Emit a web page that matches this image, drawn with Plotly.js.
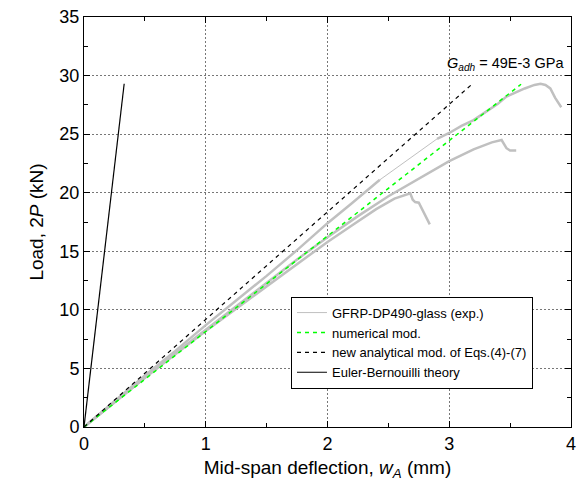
<!DOCTYPE html>
<html>
<head>
<meta charset="utf-8">
<script src="https://cdn.plot.ly/plotly-3.0.1.min.js"></script>
<style>html,body{margin:0;padding:0;background:#fff;}#chart{width:587px;height:492px;}</style>
</head>
<body>
<div id="chart"></div>
<script>
// Experimental curve A (upper), split at the sparse-data gap
const expA1_x = [0, 0.25, 0.5, 0.75, 1.0, 1.25, 1.5, 1.75, 2.0, 2.2, 2.43];
const expA1_y = [0, 2.2, 4.4, 6.5, 8.7, 10.8, 12.9, 15.1, 17.4, 19.1, 21.1];
const expGap_x = [2.43, 2.90];
const expGap_y = [21.1, 24.6];
const expA2_x = [2.90, 3.0, 3.1, 3.2, 3.3, 3.4, 3.47, 3.55, 3.62, 3.7, 3.75, 3.79, 3.83, 3.87, 3.92];
const expA2_y = [24.6, 25.1, 25.7, 26.2, 26.9, 27.6, 28.2, 28.6, 28.9, 29.2, 29.3, 29.2, 28.9, 28.1, 27.3];
// Experimental curve C
const expC_x = [0, 0.25, 0.5, 0.75, 1.0, 1.25, 1.5, 1.75, 2.0, 2.25, 2.5, 2.75, 3.0, 3.2, 3.35, 3.43, 3.45, 3.47, 3.5, 3.55];
const expC_y = [0, 2.1, 4.2, 6.3, 8.3, 10.3, 12.3, 14.3, 16.2, 18.0, 19.7, 21.2, 22.7, 23.7, 24.3, 24.5, 24.2, 23.8, 23.6, 23.6];
// Experimental curve D
const expD_x = [0, 0.25, 0.5, 0.75, 1.0, 1.25, 1.5, 1.75, 2.0, 2.2, 2.4, 2.55, 2.68, 2.70, 2.72, 2.75, 2.84];
const expD_y = [0, 2.1, 4.2, 6.2, 8.2, 10.1, 12.0, 13.9, 15.8, 17.2, 18.6, 19.5, 19.95, 19.4, 19.2, 19.15, 17.3];
// Models
const num_x = [0, 3.59];
const num_y = [0, 29.26];
const ana_x = [0, 3.18];
const ana_y = [0, 29.2];
const eb_x = [0, 0.33];
const eb_y = [0, 29.3];

const gray = '#c0c0c0';
const traces = [
  {x: expGap_x, y: expGap_y, mode: 'lines', name: 'GFRP-DP490-glass (exp.)', line: {color: gray, width: 1}},
  {x: expA1_x, y: expA1_y, mode: 'lines', showlegend: false, line: {color: gray, width: 2.5}},
  {x: expA2_x, y: expA2_y, mode: 'lines', showlegend: false, line: {color: gray, width: 2.5}},
  {x: expC_x, y: expC_y, mode: 'lines', showlegend: false, line: {color: gray, width: 2.5}},
  {x: expD_x, y: expD_y, mode: 'lines', showlegend: false, line: {color: gray, width: 2.5}},
  {x: num_x, y: num_y, mode: 'lines', name: 'numerical mod.', line: {color: '#00ff00', width: 1.5, dash: '4px,4px'}},
  {x: ana_x, y: ana_y, mode: 'lines', name: 'new analytical mod. of Eqs.(4)-(7)', line: {color: '#000', width: 1.2, dash: '4px,4px'}},
  {x: eb_x, y: eb_y, mode: 'lines', name: 'Euler-Bernouilli theory', line: {color: '#000', width: 1.2}}
];

const axisCommon = {
  showline: true, linecolor: '#000', linewidth: 1, mirror: 'ticks',
  ticks: 'inside', ticklen: 6, tickcolor: '#000', tickwidth: 1,
  showgrid: true, gridcolor: '#777', griddash: '2px,2px', gridwidth: 1,
  zeroline: false, tickfont: {size: 18, color: '#000'}
};

const layout = {
  width: 587, height: 492,
  margin: {l: 84, r: 16, t: 17, b: 65},
  paper_bgcolor: '#fff', plot_bgcolor: '#fff',
  font: {family: 'Arial, "Liberation Sans", sans-serif', color: '#000'},
  xaxis: Object.assign({}, axisCommon, {
    range: [0, 4], dtick: 1, tick0: 0,
    minor: {ticks: 'inside', dtick: 0.5, ticklen: 4, tickcolor: '#000', showgrid: false},
    title: {text: 'Mid-span deflection, <i>w</i><sub><i>A</i></sub> (mm)', font: {size: 19}, standoff: 8}
  }),
  yaxis: Object.assign({}, axisCommon, {
    range: [0, 35], dtick: 5, tick0: 0,
    minor: {ticks: 'inside', dtick: 2.5, ticklen: 4, tickcolor: '#000', showgrid: false},
    title: {text: 'Load, 2<i>P</i> (kN)', font: {size: 19}, standoff: 10}
  }),
  legend: {
    x: 0.425, y: 0.318, xanchor: 'left', yanchor: 'top',
    bgcolor: '#fff', bordercolor: '#000', borderwidth: 1,
    font: {size: 13, color: '#000'}, tracegroupgap: 0
  },
  annotations: [{
    x: 2.965, y: 30.95, xref: 'x', yref: 'y', xanchor: 'left', yanchor: 'middle',
    text: '<i>G</i><sub><i>adh</i></sub> = 49E-3 GPa', showarrow: false,
    font: {size: 14.5, color: '#000'}
  }],
  showlegend: true
};

Plotly.newPlot('chart', traces, layout, {staticPlot: true, displayModeBar: false});
</script>
</body>
</html>
